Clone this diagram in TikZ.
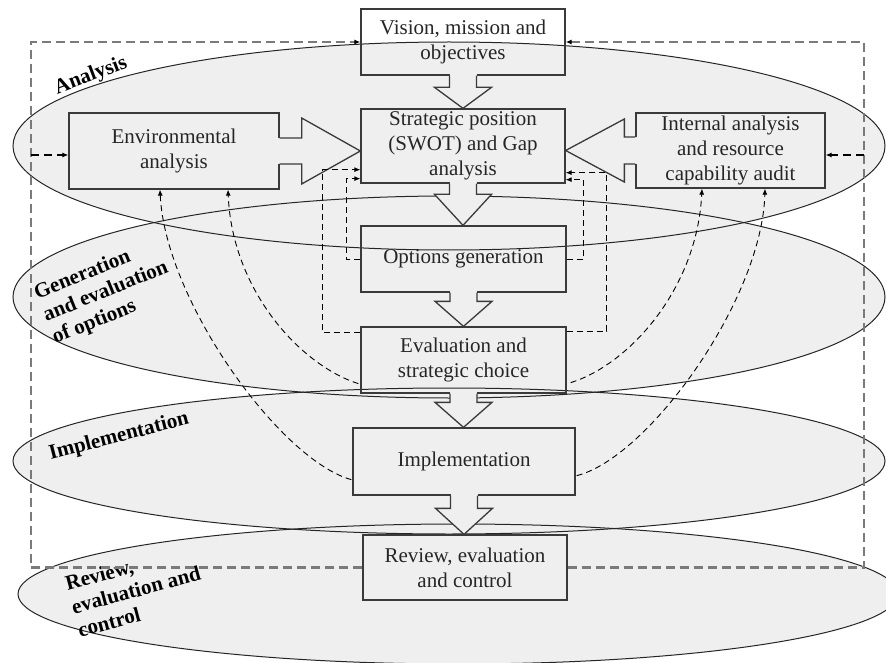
\documentclass[tikz,border=0pt]{standalone}
\usepackage{fontspec}
\setmainfont{Liberation Serif}
\usetikzlibrary{arrows.meta,calc}
\definecolor{bgc}{HTML}{EFEFEF}
\definecolor{boxc}{HTML}{3A3A3A}
\definecolor{txtc}{HTML}{262626}
\definecolor{framec}{HTML}{7A7A7A}
\newcommand\blockdown[3]{%
  \coordinate (bdA) at (#1.south);
  \coordinate (bdB) at ($(#2.north)+(0,-#3)$);
  \fill[bgc] ($(bdA)+(-13.5,-1.5)$) rectangle ($(bdA |- bdB)+(13.5,0)$);
  \filldraw[barrow] ($(bdA)+(-13.5,0)$) -- ($(bdA |- bdB)+(-13.5,0)$) -- ($(bdA |- bdB)+(-28.5,0)$) -- (bdA |- #2.north) -- ($(bdA |- bdB)+(28.5,0)$) -- ($(bdA |- bdB)+(13.5,0)$) -- ($(bdA)+(13.5,0)$);
}
\begin{document}
\begin{tikzpicture}[x=1pt,y=-1pt,
  box/.style={draw=boxc,line width=1.3pt,align=center,inner sep=0pt,font=\fontsize{21}{25}\selectfont,text=txtc},
  barrow/.style={draw=boxc,line width=1.3pt,fill=bgc,line join=miter},
  lbl/.style={font=\fontsize{21}{24}\selectfont\bfseries,align=left,text=black,inner sep=0pt},
  fb/.style={draw=black,line width=0.9pt,dash pattern=on 6pt off 4pt,-{Latex[length=6pt,width=5pt]}},
  frame/.style={draw=framec,line width=2.2pt,dash pattern=on 9pt off 5pt},
  sidearr/.style={draw=black,line width=1.1pt,dash pattern=on 8pt off 5pt,-{Latex[length=6pt,width=5pt]}},
  zoneline/.style={draw=black!85,line width=1pt},
]
\useasboundingbox (0,0) rectangle (886,663);
\fill[white] (0,0) rectangle (886,663);
% zones
\fill[bgc] (449,146) ellipse [x radius=436pt, y radius=104pt];
\fill[bgc] (449,297) ellipse [x radius=436pt, y radius=101pt];
\fill[bgc] (449,461) ellipse [x radius=436pt, y radius=73pt];
\fill[bgc] (458,594) ellipse [x radius=440pt, y radius=70pt];
\draw[zoneline] (449,146) ellipse [x radius=436pt, y radius=104pt];
\draw[zoneline] (449,297) ellipse [x radius=436pt, y radius=101pt];
\draw[zoneline] (449,461) ellipse [x radius=436pt, y radius=73pt];
\draw[zoneline] (458,594) ellipse [x radius=440pt, y radius=70pt];
% zone labels
\node[lbl,rotate=21] (labA) at (91,76) {Analysis};
\node[lbl,rotate=22] (labG) at (106,292) {Generation\\and evaluation\\of options};
\node[lbl,rotate=14.5] (labI) at (119,437) {Implementation};
\node[lbl,rotate=15] (labR) at (136,590) {Review,\\evaluation and\\control};
% boxes
\node[box,minimum width=204pt,minimum height=66pt] (vis) at (463,42) {Vision, mission and\\objectives};
\node[box,minimum width=204pt,minimum height=74pt] (strat) at (463,146) {Strategic position\\(SWOT) and Gap\\analysis};
\node[box,minimum width=210pt,minimum height=76pt] (env) at (174,151) {Environmental\\analysis};
\node[box,minimum width=189pt,minimum height=75pt] (int) at (730.5,150.5) {Internal analysis\\and resource\\capability audit};
\node[box,minimum width=205pt,minimum height=66pt] (opt) at (463.5,259) {Options generation};
\node[box,minimum width=205pt,minimum height=66pt] (eval) at (463.5,360) {Evaluation and\\strategic choice};
\node[box,minimum width=222pt,minimum height=67pt] (impl) at (464,461.5) {Implementation};
\node[box,minimum width=204pt,minimum height=65pt] (rev) at (465,567.5) {Review, evaluation\\and control};
% block arrows down
\blockdown{vis}{strat}{21}
\blockdown{strat}{opt}{31}
\blockdown{opt}{eval}{25}
\blockdown{eval}{impl}{25}
\blockdown{impl}{rev}{26}
% block arrows into strategic position
\fill[bgc] ($(env.east)+(-1.5,-13)$) rectangle ($(env.east)+(22,13)$);
\filldraw[barrow] ($(env.east)+(0,-13)$) -- ($(env.east)+(22,-13)$) -- ($(env.east)+(22,-33)$) -- (strat.west |- env.east) -- ($(env.east)+(22,33)$) -- ($(env.east)+(22,13)$) -- ($(env.east)+(0,13)$);
\fill[bgc] ($(int.west)+(1.5,-13.5)$) rectangle ($(int.west)+(-11,13.5)$);
\filldraw[barrow] ($(int.west)+(0,-13.5)$) -- ($(int.west)+(-11,-13.5)$) -- ($(int.west)+(-11,-31.5)$) -- (strat.east |- int.west) -- ($(int.west)+(-11,31.5)$) -- ($(int.west)+(-11,13.5)$) -- ($(int.west)+(0,13.5)$);
% outer dashed frame
\draw[frame,-{Latex[length=6pt,width=5pt,color=black]}] (rev.west) -| (31,42) -- (vis.west);
\draw[frame,-{Latex[length=6pt,width=5pt,color=black]}] (rev.east) -| (864,42) -- (vis.east);
\coordinate (fl) at (31,155);
\coordinate (fr) at (864,155);
\draw[sidearr] (fl) -- (fl -| env.west);
\draw[sidearr] (fr) -- (fr -| int.east);
% rectilinear feedback
\draw[fb] (opt.west) -- ++(-14,0) |- ($(strat.south west)+(0,-5)$);
\draw[fb] ($(eval.north west)+(0,6)$) -- ++(-38,0) |- ($(strat.south west)+(0,-14)$);
\draw[fb] (opt.east) -- ++(17,0) |- ($(strat.south east)+(0,-4)$);
\draw[fb] ($(eval.north east)+(0,5)$) -- ++(40,0) |- ($(strat.south east)+(0,-11)$);
% curved feedback
\draw[fb] ($(impl.south west)+(-1,-16)$) .. controls (280,460) and (165,300) .. ($(env.south)+(-14,0)$);
\draw[fb] ($(eval.south west)+(-2,-10)$) .. controls (300,365) and (232,290) .. ($(env.south)+(54,0)$);
\draw[fb] ($(eval.south east)+(4,-11)$) .. controls (628,365) and (697,290) .. ($(int.south)+(-28.5,0)$);
\draw[fb] ($(impl.south east)+(1,-20)$) .. controls (648,458) and (762,300) .. ($(int.south)+(34.5,0)$);
\end{tikzpicture}
\end{document}
